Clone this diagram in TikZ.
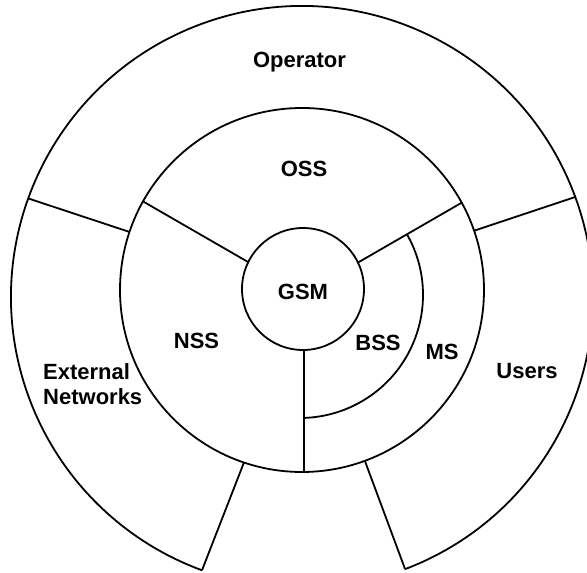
\documentclass[tikz,border=0pt]{standalone}
\usepackage{fontspec}
\setmainfont{Liberation Sans}
\begin{document}
\begin{tikzpicture}[x=1pt,y=1pt,
  ring/.style={line width=1.8pt},
  lbl/.style={font=\fontsize{22}{25}\selectfont\bfseries, inner sep=0pt}]
\useasboundingbox (0,0) rectangle (587,573);
\clip (0,0) rectangle (587,573);
% centres
\coordinate (O) at (302,276);
\coordinate (M) at (302,283);
\coordinate (I) at (303,284);
\coordinate (A) at (300,278);
% points on outer circle
\path (O) ++(160.2:291) coordinate (oUL);
\path (O) ++(20.1:291) coordinate (oUR);
\path (O) ++(249.9:291) coordinate (oBL);
\path (O) ++(290.75:291) coordinate (oBR);
% points on middle circle
\path (M) ++(161.4:182) coordinate (mUL);
\path (M) ++(19:182) coordinate (mUR);
\path (M) ++(251.4:182) coordinate (mBL);
\path (M) ++(290.2:182) coordinate (mBR);
% spokes
\coordinate (sLi) at (248.2,310.9);
\coordinate (sLm) at (143,371.6);
\coordinate (sRi) at (358,310.45);
\coordinate (sRm) at (461.7,370.3);
\coordinate (sVi) at (304,223);
\coordinate (sVm) at (304,101);
% MS arc ends
\path (A) ++(29.6:123) coordinate (msA);
% outer ring (open at the bottom)
\draw[ring] (oBR) arc[start angle=290.75, end angle=609.9, radius=291];
% circles
\draw[ring] (M) circle[radius=182];
\draw[ring] (I) circle[radius=61];
% outer ring dividers
\draw[ring] (mUL) -- (oUL);
\draw[ring] (mUR) -- (oUR);
\draw[ring] (mBL) -- (oBL);
\draw[ring] (mBR) -- (oBR);
% inner spokes
\draw[ring] (sLi) -- (sLm);
\draw[ring] (sRi) -- (sRm);
\draw[ring] (sVi) -- (sVm);
% BSS / MS arc
\draw[ring] (msA) arc[start angle=29.6, end angle=-88.1, radius=123];
% labels
\node[lbl, anchor=base] (op) at (299.5,505) {Operator};
\node[lbl, anchor=base] (oss) at (304,396) {OSS};
\node[lbl, anchor=base] (gsm) at (303,273) {GSM};
\node[lbl, anchor=base] (nss) at (196.5,224) {NSS};
\node[lbl, anchor=base] (bss) at (378,222) {BSS};
\node[lbl, anchor=base] (ms) at (442,213) {MS};
\node[lbl, anchor=base] (us) at (527,194) {Users};
\node[lbl, anchor=base west] (ext) at (43,193) {External};
\node[lbl, anchor=base west] (net) at (43,168) {Networks};
\end{tikzpicture}
\end{document}
